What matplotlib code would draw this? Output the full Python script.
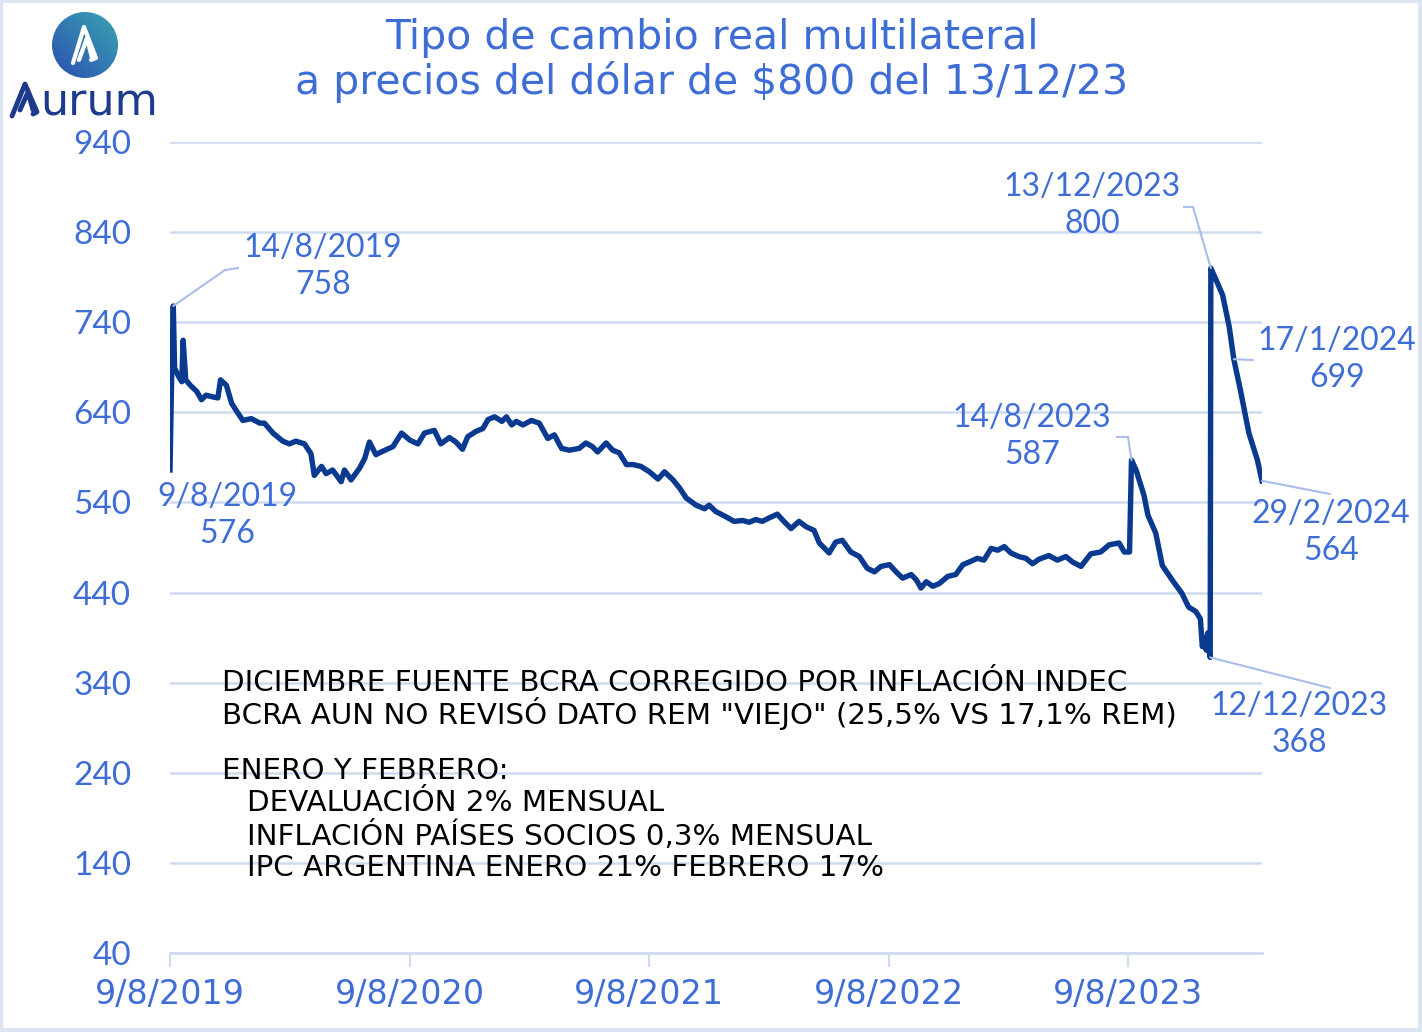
import numpy as np
import pandas as pd
import matplotlib
matplotlib.use("Agg")
import matplotlib.pyplot as plt
from matplotlib.patches import Circle


# Tipo de cambio real multilateral
dates = [
    "2019-08-09", "2019-08-12", "2019-08-14", "2019-08-16", "2019-08-22", "2019-08-27",
    "2019-08-29", "2019-09-02", "2019-09-09", "2019-09-19", "2019-09-26", "2019-10-03",
    "2019-10-14", "2019-10-21", "2019-10-25", "2019-11-03", "2019-11-11", "2019-11-18",
    "2019-11-28", "2019-12-11", "2019-12-24", "2019-12-31", "2020-01-13", "2020-01-28",
    "2020-02-07", "2020-02-17", "2020-03-01", "2020-03-11", "2020-03-16", "2020-03-27",
    "2020-04-03", "2020-04-13", "2020-04-26", "2020-05-01", "2020-05-11", "2020-05-24",
    "2020-06-01", "2020-06-08", "2020-06-18", "2020-06-26", "2020-07-14", "2020-07-27",
    "2020-08-09", "2020-08-21", "2020-08-31", "2020-09-15", "2020-09-25", "2020-10-08",
    "2020-10-18", "2020-10-28", "2020-11-05", "2020-11-18", "2020-11-28", "2020-12-06",
    "2020-12-16", "2020-12-27", "2021-01-03", "2021-01-11", "2021-01-18", "2021-01-28",
    "2021-02-10", "2021-02-22", "2021-03-07", "2021-03-17", "2021-03-28", "2021-04-09",
    "2021-04-24", "2021-05-04", "2021-05-14", "2021-05-22", "2021-06-04", "2021-06-14",
    "2021-06-24", "2021-07-05", "2021-07-15", "2021-07-27", "2021-08-09", "2021-08-22",
    "2021-09-01", "2021-09-14", "2021-09-24", "2021-10-04", "2021-10-19", "2021-11-01",
    "2021-11-08", "2021-11-18", "2021-12-04", "2021-12-16", "2021-12-29", "2022-01-08",
    "2022-01-18", "2022-01-28", "2022-02-08", "2022-02-20", "2022-03-02", "2022-03-13",
    "2022-03-25", "2022-04-05", "2022-04-17", "2022-04-25", "2022-05-10", "2022-05-20",
    "2022-05-30", "2022-06-12", "2022-06-25", "2022-07-07", "2022-07-18", "2022-07-28",
    "2022-08-10", "2022-08-20", "2022-08-30", "2022-09-12", "2022-09-20", "2022-09-27",
    "2022-10-05", "2022-10-15", "2022-10-25", "2022-11-07", "2022-11-19", "2022-11-30",
    "2022-12-10", "2022-12-22", "2023-01-01", "2023-01-12", "2023-01-22", "2023-02-01",
    "2023-02-11", "2023-02-23", "2023-03-06", "2023-03-16", "2023-03-26", "2023-04-10",
    "2023-04-23", "2023-05-06", "2023-05-16", "2023-05-29", "2023-06-13", "2023-06-28",
    "2023-07-11", "2023-07-26", "2023-08-03", "2023-08-11", "2023-08-14", "2023-08-21",
    "2023-09-02", "2023-09-08", "2023-09-20", "2023-09-30", "2023-10-15", "2023-10-30",
    "2023-11-09", "2023-11-20", "2023-11-27", "2023-11-30", "2023-12-04", "2023-12-06",
    "2023-12-08", "2023-12-11", "2023-12-12", "2023-12-13", "2023-12-21", "2023-12-31",
    "2024-01-10", "2024-01-17", "2024-01-27", "2024-02-09", "2024-02-22", "2024-02-29",
]
tcrm = [
    576, 700, 758, 689, 680, 674,
    720, 676, 670, 663, 654, 659,
    657, 656, 676, 670, 650, 642,
    631, 633, 628, 628, 617, 608,
    605, 608, 605, 594, 570, 580,
    572, 576, 563, 576, 565, 578,
    589, 607, 593, 596, 602, 617,
    609, 605, 617, 620, 605, 612,
    607, 599, 613, 619, 622, 632,
    635, 630, 635, 626, 630, 626,
    631, 628, 611, 615, 600, 598,
    600, 606, 602, 596, 606, 598,
    595, 582, 582, 580, 574, 566,
    574, 565, 556, 545, 537, 533,
    537, 530, 524, 519, 520, 518,
    521, 519, 523, 527, 519, 511,
    519, 513, 509, 495, 484, 496,
    498, 485, 480, 467, 463, 469,
    471, 463, 456, 460, 454, 445,
    452, 447, 450, 458, 460, 471,
    474, 478, 476, 489, 487, 491,
    484, 480, 478, 472, 477, 481,
    476, 480, 474, 469, 483, 485,
    493, 495, 485, 485, 587, 576,
    548, 526, 506, 470, 454, 439,
    424, 419, 411, 380, 390, 376,
    395, 372, 368, 800, 787, 770,
    735, 699, 665, 617, 587, 564,
]

# etiquetas de puntos destacados
ann_dates = ["2019-08-14", "2019-08-09", "2023-08-14", "2023-12-13", "2024-01-17", "2024-02-29", "2023-12-12"]
ann_values = [758, 576, 587, 800, 699, 564, 368]
ann_labels = ["14/8/2019", "9/8/2019", "14/8/2023", "13/12/2023", "17/1/2024", "29/2/2024", "12/12/2023"]

y_ticks = [40, 140, 240, 340, 440, 540, 640, 740, 840, 940]
x_ticks = ["2019-08-09", "2020-08-09", "2021-08-09", "2022-08-09", "2023-08-09"]

notes = [
    "DICIEMBRE FUENTE BCRA CORREGIDO POR INFLACIÓN INDEC",
    "BCRA AUN NO REVISÓ DATO REM \"VIEJO\" (25,5% VS 17,1% REM)",
    "ENERO Y FEBRERO:",
    "DEVALUACIÓN 2% MENSUAL",
    "INFLACIÓN PAÍSES SOCIOS 0,3% MENSUAL",
    "IPC ARGENTINA ENERO 21% FEBRERO 17%",
]

LINE = "#0a3a8f"
BLUE = "#3f6dd6"
GRID = "#cfdbf1"
LEAD = "#a8bde9"
FONT = ["Lato", "DejaVu Sans"]
WIDE = ["DejaVu Sans"]
NARROW = ["Liberation Sans Narrow", "DejaVu Sans"]

W, H = 1422, 1032
fig = plt.figure(figsize=(W / 100, H / 100), dpi=100)
fig.patch.set_facecolor("white")

# eje principal (pixeles: x 170..1262, y 142..953)
ax = fig.add_axes([170 / W, 1 - 953 / H, (1262 - 170) / W, (953 - 142) / H])
x = pd.to_datetime(dates)
ax.plot(x, tcrm, color=LINE, lw=3.9, solid_joinstyle="round", zorder=3)

ax.set_xlim(pd.Timestamp("2019-08-09"), pd.Timestamp("2024-02-29"))
ax.set_ylim(40, 940)
ax.set_yticks(y_ticks)
ax.set_yticklabels([str(v) for v in y_ticks], color=BLUE, fontsize=24, family=FONT)
ax.yaxis.grid(True, color=GRID, lw=1.8)
ax.set_axisbelow(True)
xt = pd.to_datetime(x_ticks)
ax.set_xticks(xt)
ax.set_xticklabels([f"{d.day}/{d.month}/{d.year}" for d in xt], color=BLUE, fontsize=24, family=NARROW)
ax.tick_params(axis="y", length=0, pad=28)
ax.tick_params(axis="x", length=10, width=1.5, color=GRID, pad=8)
for s in ["top", "right", "left"]:
    ax.spines[s].set_visible(False)
ax.spines["bottom"].set_color(GRID)
ax.spines["bottom"].set_linewidth(2)
ax.patch.set_alpha(0)

# capa en pixeles para textos, logo y guias
ov = fig.add_axes([0, 0, 1, 1], zorder=5)
ov.set_xlim(0, W)
ov.set_ylim(H, 0)
ov.axis("off")
ov.patch.set_alpha(0)
ov.add_patch(plt.Rectangle((1, 1), W - 3, H - 3, fill=False, ec="#dde4f1", lw=3))

ov.text(712, 38, "Tipo de cambio real multilateral", color=BLUE, fontsize=29.5,
        ha="center", va="center", family=WIDE)
ov.text(712, 82, "a precios del dólar de $800 del 13/12/23", color=BLUE, fontsize=29.5,
        ha="center", va="center", family=WIDE)

# logo
n = 120
gx, gy = np.meshgrid(np.linspace(0, 1, n), np.linspace(0, 1, n))
grad = gx * 0.5 + (1 - gy) * 0.5
img = ov.imshow(grad, extent=(52, 118, 78, 12), cmap=matplotlib.colors.LinearSegmentedColormap.from_list(
    "lg", ["#2b4fb0", "#3aa5b4"]), zorder=6, interpolation="bilinear")
img.set_clip_path(Circle((85, 45), 33, transform=ov.transData))
ov.plot([73, 84, 96, 91], [63, 27, 58, 60], color="white", lw=3, solid_capstyle="round",
        solid_joinstyle="round", zorder=7)
ov.plot([79, 87, 92], [60, 38, 58], color="white", lw=3, solid_capstyle="round", zorder=7)
ov.plot([12, 25, 37, 33], [116, 84, 112, 114], color="#1d3a8c", lw=3.5, solid_capstyle="round",
        solid_joinstyle="round", zorder=7)
ov.plot([20, 28, 33], [110, 92, 110], color="#1d3a8c", lw=3.5, solid_capstyle="round", zorder=7)
ov.text(40, 102, "urum", color="#1d3a8c", fontsize=32, ha="left", va="center", family=WIDE)

# anotaciones
label_pos = [(323, 248), (227, 497), (1032, 418), (1092, 187), (1337, 341), (1331, 514), (1299, 706)]
lead_from = [(238, 268), None, (1117, 437), (1184, 207), (1253, 360), (1330, 494), (1330, 688)]
lead_knee = [(225, 270), None, (1128, 437), (1193, 207), None, None, None]
for d, v, lab, (lx, ly), lf, lk in zip(ann_dates, ann_values, ann_labels, label_pos, lead_from, lead_knee):
    ov.text(lx, ly, lab, color=BLUE, fontsize=23, ha="center", va="center", family=FONT)
    ov.text(lx, ly + 37, str(v), color=BLUE, fontsize=23, ha="center", va="center", family=FONT)
    if lf is None:
        continue
    start = lf
    if lk is not None:
        ov.plot([lf[0], lk[0]], [lf[1], lk[1]], color=LEAD, lw=1.5, zorder=2)
        start = lk
    ax.annotate("", xy=(pd.Timestamp(d), v), xycoords="data", xytext=start, textcoords=ov.transData,
                arrowprops=dict(arrowstyle="-", color=LEAD, lw=1.5, shrinkA=0, shrinkB=0))

# notas
note_y = [683, 714, 771, 803, 836, 868]
note_x = [222, 222, 222, 247, 247, 247]
for t, nx, ny in zip(notes, note_x, note_y):
    ov.text(nx, ny, t, color="black", fontsize=21.2, ha="left", va="center", family=WIDE)

fig.savefig("out.png", dpi=100, facecolor="white")
